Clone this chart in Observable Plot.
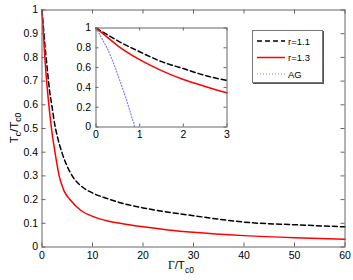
<!DOCTYPE html>
<html>
<head>
<meta charset="utf-8">
<script src="https://cdn.jsdelivr.net/npm/d3@7"></script>
<script src="https://cdn.jsdelivr.net/npm/@observablehq/plot@0.6"></script>
<style>
  body { margin: 0; background: white; }
  #wrap { position: relative; width: 353px; height: 280px; overflow: hidden; font-family: "Liberation Sans", Arial, sans-serif; }
  #wrap > * { position: absolute; }
</style>
</head>
<body>
<div id="wrap"></div>
<script>
// ---- data ----
const r11X = [0, 0.25, 0.5, 1, 1.5, 2, 2.5, 3, 4, 5, 6.3, 8, 10.3, 13, 15.3, 20, 25, 30, 37, 40, 50, 60];
const r11Y = [1, 0.935, 0.87, 0.76, 0.66, 0.59, 0.52, 0.47, 0.395, 0.34, 0.29, 0.253, 0.225, 0.204, 0.188, 0.165, 0.147, 0.132, 0.112, 0.105, 0.094, 0.085];

const r13X = [0, 0.25, 0.5, 1, 1.5, 2, 2.5, 3, 3.4, 4.3, 5.66, 7.66, 10.3, 13, 15.7, 20, 25, 30, 40, 50, 60];
const r13Y = [1, 0.91, 0.82, 0.68, 0.57, 0.48, 0.41, 0.345, 0.30, 0.24, 0.197, 0.155, 0.127, 0.11, 0.099, 0.085, 0.072, 0.062, 0.048, 0.039, 0.033];

const agX = [0, 0.1, 0.25, 0.35, 0.44, 0.52, 0.6, 0.68, 0.75, 0.8, 0.84, 0.87, 0.882];
const agY = [1, 0.92, 0.8, 0.7, 0.6, 0.5, 0.4, 0.3, 0.2, 0.13, 0.07, 0.03, 0];

const mainXTicks = [0, 10, 20, 30, 40, 50, 60];
const mainYTicks = [0, 0.1, 0.2, 0.3, 0.4, 0.5, 0.6, 0.7, 0.8, 0.9, 1];
const insetXTicks = [0, 1, 2, 3];
const insetYTicks = [0, 0.2, 0.4, 0.6, 0.8, 1];

const seriesNames = ["r=1.1", "r=1.3", "AG"];

const toRows = (xs, ys) => xs.map((x, i) => ({x, y: ys[i]}));
const r11 = toRows(r11X, r11Y);
const r13 = toRows(r13X, r13Y);
const ag = toRows(agX, agY);

const frameColor = "#666";
const blackStyle = {stroke: "black", strokeWidth: 1.5, strokeDasharray: "5,3"};
const redStyle = {stroke: "#ff0000", strokeWidth: 1.5};
const blueStyle = {stroke: "#7b7bff", strokeWidth: 1.2, strokeDasharray: "1,2"};

const wrap = document.getElementById("wrap");

// ---- main plot ----
const W = 353, H = 280;
const mL = 41.5, mR = 8.5, mT = 9.5, mB = 33.5;
const fw = W - mL - mR, fh = H - mT - mB;
const tk = 4;

const main = Plot.plot({
  width: W, height: H,
  marginLeft: mL, marginRight: mR, marginTop: mT, marginBottom: mB,
  style: {fontFamily: "Liberation Sans, Arial, sans-serif", fontSize: "10.5px", color: "black", background: "transparent"},
  x: {domain: [0, 60]},
  y: {domain: [0, 1]},
  marks: [
    Plot.line(r11, {x: "x", y: "y", curve: "monotone-x", ...blackStyle}),
    Plot.line(r13, {x: "x", y: "y", curve: "monotone-x", ...redStyle}),
    Plot.tickX(mainXTicks, {x: d => d, stroke: frameColor, insetTop: fh - tk}),
    Plot.tickX(mainXTicks, {x: d => d, stroke: frameColor, insetBottom: fh - tk}),
    Plot.tickY(mainYTicks, {y: d => d, stroke: frameColor, insetRight: fw - tk}),
    Plot.tickY(mainYTicks, {y: d => d, stroke: frameColor, insetLeft: fw - tk}),
    Plot.axisX(mainXTicks, {tickSize: 0, tickPadding: 5, tickFormat: d => String(d), label: null}),
    Plot.axisY(mainYTicks, {tickSize: 0, tickPadding: 4, tickFormat: d => String(d), label: null}),
    Plot.frame({stroke: frameColor, strokeWidth: 1})
  ]
});
main.style.left = "0px"; main.style.top = "0px";
wrap.appendChild(main);

// ---- inset plot ----
const iL = 30.5, iR = 5.5, iT = 5.5, iB = 20.5;
const iW = 167, iH = 125;
const ifw = iW - iL - iR, ifh = iH - iT - iB;
const itk = 3;
const inset = Plot.plot({
  width: iW, height: iH,
  marginLeft: iL, marginRight: iR, marginTop: iT, marginBottom: iB,
  style: {fontFamily: "Liberation Sans, Arial, sans-serif", fontSize: "10.5px", color: "black", background: "transparent"},
  x: {domain: [0, 3]},
  y: {domain: [0, 1]},
  marks: [
    Plot.frame({fill: "white", stroke: "none"}),
    Plot.line(r11.filter(d => d.x <= 3), {x: "x", y: "y", curve: "monotone-x", ...blackStyle}),
    Plot.line(r13.filter(d => d.x <= 3), {x: "x", y: "y", curve: "monotone-x", ...redStyle}),
    Plot.line(ag, {x: "x", y: "y", curve: "monotone-y", ...blueStyle}),
    Plot.tickX(insetXTicks, {x: d => d, stroke: frameColor, insetTop: ifh - itk}),
    Plot.tickX(insetXTicks, {x: d => d, stroke: frameColor, insetBottom: ifh - itk}),
    Plot.tickY(insetYTicks, {y: d => d, stroke: frameColor, insetRight: ifw - itk}),
    Plot.tickY(insetYTicks, {y: d => d, stroke: frameColor, insetLeft: ifw - itk}),
    Plot.axisX(insetXTicks, {tickSize: 0, tickPadding: 4, tickFormat: d => String(d), label: null}),
    Plot.axisY(insetYTicks, {tickSize: 0, tickPadding: 5, tickFormat: d => String(d), label: null}),
    Plot.frame({stroke: frameColor, strokeWidth: 1})
  ]
});
inset.style.left = "65px"; inset.style.top = "22px";
wrap.appendChild(inset);

// ---- axis labels & legend overlay ----
const ov = d3.create("svg").attr("width", W).attr("height", H)
  .style("left", "0px").style("top", "0px")
  .attr("font-family", "Liberation Sans, Arial, sans-serif");

// y label
const yl = ov.append("text").attr("transform", "translate(17.5,128) rotate(-90)")
  .attr("text-anchor", "middle").attr("font-size", 11.5).attr("fill", "black");
yl.append("tspan").text("T");
yl.append("tspan").attr("dy", 3.5).attr("font-size", 8.5).text("c");
yl.append("tspan").attr("dy", -3.5).text("/T");
yl.append("tspan").attr("dy", 3.5).attr("font-size", 8.5).text("c0");

// x label
const xl = ov.append("text").attr("x", 168).attr("y", 268.5)
  .attr("font-size", 11.5).attr("fill", "black");
xl.append("tspan").attr("font-family", "Liberation Serif, Times New Roman, serif").text("Γ");
xl.append("tspan").text("/T");
xl.append("tspan").attr("dy", 4).attr("font-size", 8.5).text("c0");

// legend
const lg = ov.append("g");
lg.append("rect").attr("x", 253).attr("y", 31).attr("width", 71).attr("height", 53)
  .attr("fill", "#555");
lg.append("rect").attr("x", 252.5).attr("y", 30.5).attr("width", 70).attr("height", 52)
  .attr("fill", "white").attr("stroke", "#777").attr("stroke-width", 1);
const styles = [blackStyle, redStyle, blueStyle];
const rowsY = [41, 57.5, 74];
seriesNames.forEach((name, i) => {
  const s = styles[i];
  lg.append("line").attr("x1", 257).attr("x2", 285).attr("y1", rowsY[i]).attr("y2", rowsY[i])
    .attr("stroke", s.stroke).attr("stroke-width", s.strokeWidth)
    .attr("stroke-dasharray", s.strokeDasharray || null);
  lg.append("text").attr("x", 288).attr("y", rowsY[i] + 3.5)
    .attr("font-size", 9.5).attr("fill", "black").text(name);
});
wrap.appendChild(ov.node());
</script>
</body>
</html>
